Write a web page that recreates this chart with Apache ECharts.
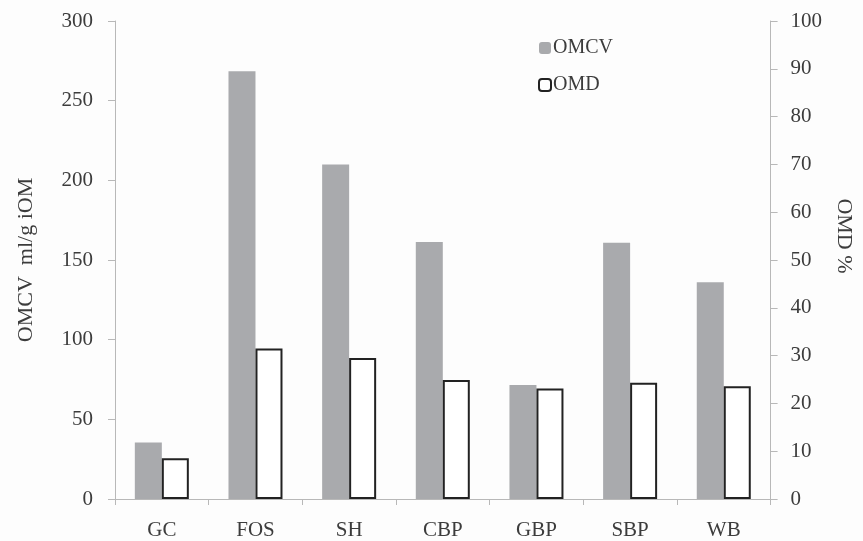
<!DOCTYPE html>
<html><head><meta charset="utf-8">
<script src="https://cdn.jsdelivr.net/npm/echarts@6/dist/echarts.min.js"></script>
<style>html,body{margin:0;padding:0;background:#fdfdfd}#c{width:863px;height:541px}</style>
</head><body><div id="c"></div>
<script>
const categories = ['GC','FOS','SH','CBP','GBP','SBP','WB'];
const omcv = [35.4, 268.5, 210, 161.3, 71.5, 160.8, 136];
const omd = [8.5, 31.5, 29.5, 24.9, 23.1, 24.3, 23.6];
const leftTicks = [0, 300, 50];
const rightTicks = [0, 100, 10];

const font = 'Liberation Serif';
const txt = '#3c3c3c';
const axisCol = '#b8b8b8';
const chart = echarts.init(document.getElementById('c'));
chart.setOption({
  backgroundColor: '#fdfdfd',
  animation: false,
  textStyle: {fontFamily: font},
  grid: {left: 115, right: 91, top: 21, bottom: 40},
  legend: {
    orient: 'vertical', left: 533, top: 33, itemWidth: 12, itemHeight: 12, itemGap: 17,
    textStyle: {fontFamily: font, fontSize: 20, color: txt, padding: [0,0,0,-3]},
    data: ['OMCV', 'OMD']
  },
  xAxis: {
    type: 'category', data: categories,
    axisLine: {lineStyle: {color: axisCol, width: 1}},
    axisTick: {show: true, length: 6, lineStyle: {color: axisCol}},
    axisLabel: {fontFamily: font, fontSize: 21, color: txt, margin: 21}
  },
  yAxis: [{
    type: 'value', min: leftTicks[0], max: leftTicks[1], interval: leftTicks[2],
    name: 'OMCV  ml/g iOM', nameLocation: 'middle', nameGap: 78,
    nameTextStyle: {fontFamily: font, fontSize: 22, color: txt},
    axisLine: {show: true, lineStyle: {color: axisCol}},
    axisTick: {show: true, length: 7, lineStyle: {color: axisCol}},
    axisLabel: {fontFamily: font, fontSize: 21, color: txt, margin: 22},
    splitLine: {show: false}
  }, {
    type: 'value', min: rightTicks[0], max: rightTicks[1], interval: rightTicks[2],
    name: 'OMD %', nameLocation: 'middle', nameGap: 57, nameRotate: -90,
    nameTextStyle: {fontFamily: font, fontSize: 22, color: txt, padding: [0, 48, 0, 0]},
    axisLine: {show: true, lineStyle: {color: axisCol}},
    axisTick: {show: true, length: 7, lineStyle: {color: axisCol}},
    axisLabel: {fontFamily: font, fontSize: 21, color: txt, margin: 20},
    splitLine: {show: false}
  }],
  series: [{
    name: 'OMCV', type: 'bar', data: omcv, yAxisIndex: 0,
    barWidth: 27, barGap: '0%',
    itemStyle: {color: '#a9aaad'}
  }, {
    name: 'OMD', type: 'bar', data: omd, yAxisIndex: 1,
    barWidth: 27, barGap: '0%',
    itemStyle: {color: '#ffffff', borderColor: '#222', borderWidth: 2}
  }]
});
</script></body></html>
